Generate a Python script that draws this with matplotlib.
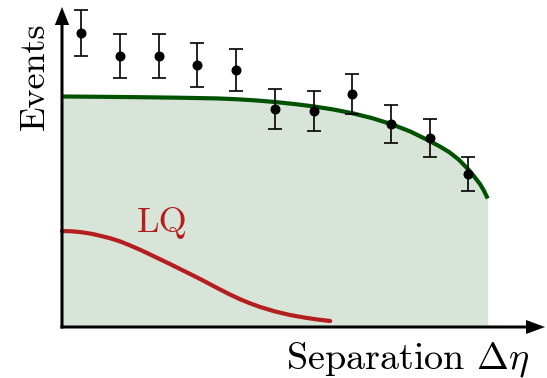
import matplotlib
matplotlib.use("Agg")
import matplotlib.pyplot as plt
from matplotlib.patches import FancyArrow

plt.rcParams["font.family"] = ["cmr10", "DejaVu Sans"]
plt.rcParams["mathtext.fontset"] = "cm"

# Measured events per separation bin
bin_centers = [0.5, 1.5, 2.5, 3.5, 4.5, 5.5, 6.5, 7.5, 8.5, 9.5, 10.5]
events = [29.4, 27.1, 27.1, 26.2, 25.7, 21.8, 21.6, 23.3, 20.3, 18.9, 15.3]
errors = [2.3, 2.2, 2.2, 2.2, 2.1, 2.0, 2.0, 2.0, 1.9, 1.9, 1.7]

# Background expectation
bkg_x = [0.0, 1.0, 2.0, 3.0, 4.0, 4.5, 5.0, 5.5, 6.0, 6.5, 7.0, 7.5, 8.0,
         8.5, 9.0, 9.5, 9.75, 10.0, 10.25, 10.5, 10.65, 10.8, 10.9, 11.0]
bkg_y = [23.05, 23.02, 22.98, 22.93, 22.86, 22.78, 22.66, 22.5, 22.3, 22.06,
         21.76, 21.38, 20.9, 20.3, 19.55, 18.6, 18.08, 17.5, 16.75, 15.75,
         15.05, 14.3, 13.65, 12.85]

# Leptoquark signal shape
lq_x = [0.0, 0.25, 0.5, 0.75, 0.98, 1.25, 1.5, 1.75, 2.02, 2.25, 2.53, 2.8,
        3.05, 3.3, 3.57, 3.8, 4.05, 4.34, 4.6, 4.85, 5.12, 5.5, 5.89, 6.3,
        6.6, 6.93]
lq_y = [9.6, 9.57, 9.48, 9.33, 9.13, 8.87, 8.56, 8.17, 7.72, 7.3, 6.78, 6.28,
        5.8, 5.32, 4.8, 4.33, 3.82, 3.25, 2.78, 2.38, 2.0, 1.56, 1.2, 0.92,
        0.75, 0.6]

GREEN = "#005200"
FILL = "#d8e4d8"
RED = "#b41e1e"

fig = plt.figure(figsize=(5.47, 3.78), dpi=100)
ax = fig.add_axes([0, 0, 1, 1])
ax.set_xlim(-1.602, 12.532)
ax.set_ylim(-5.1, 32.7)
ax.axis("off")

ax.fill_between(bkg_x, 0, bkg_y, color=FILL, lw=0, zorder=1)
ax.plot(bkg_x, bkg_y, color=GREEN, lw=3.0, solid_capstyle="butt",
        solid_joinstyle="round", zorder=3)
ax.plot(lq_x, lq_y, color=RED, lw=3.0, solid_capstyle="round",
        solid_joinstyle="round", zorder=3)

ax.errorbar(bin_centers, events, yerr=errors, fmt="o", color="black",
            ms=6.2, elinewidth=1.2, capsize=5, capthick=1.2, zorder=5)

# Axes drawn as arrows
ax.add_patch(FancyArrow(-0.04, 0, 12.52, 0, width=0.3, head_width=1.4,
                        head_length=0.49, length_includes_head=True,
                        color="black", lw=0, zorder=4))
ax.add_patch(FancyArrow(0, -0.15, 0, 32.15, width=0.078, head_width=0.37,
                        head_length=1.8, length_includes_head=True,
                        color="black", lw=0, zorder=4))

ax.text(12.09, -4.13, r"Separation $\Delta\eta$", fontsize=27.5,
        ha="right", va="baseline")
ax.text(-0.7, 25.1, "Events", fontsize=26, rotation=90,
        ha="center", va="center")
ax.text(2.58, 9.47, "LQ", fontsize=26, color=RED, ha="center", va="baseline")

fig.savefig("out.png", dpi=100)
